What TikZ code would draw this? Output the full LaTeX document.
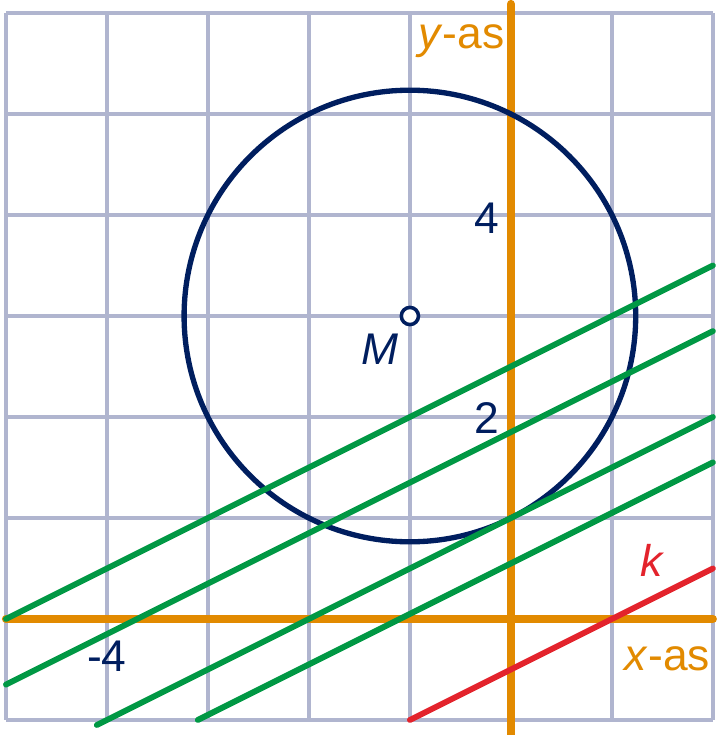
\documentclass[tikz,border=0pt]{standalone}
\usepackage{fontspec}
\setmainfont{Liberation Sans}
\definecolor{gridc}{RGB}{176,181,207}
\definecolor{axisc}{RGB}{226,138,0}
\definecolor{greenc}{RGB}{0,152,68}
\definecolor{navyc}{RGB}{0,30,95}
\definecolor{redc}{RGB}{227,35,44}
\begin{document}
\begin{tikzpicture}[x=1cm,y=1cm,
  gridline/.style={draw=gridc,line width=1pt},
  axisline/.style={draw=axisc,line width=2.3pt,line cap=round},
  greenline/.style={draw=greenc,line width=1.65pt,line cap=round},
  redline/.style={draw=redc,line width=1.65pt,line cap=round},
  circ/.style={draw=navyc,line width=1.5pt},
  lbl/.style={font=\fontsize{12.5}{14}\selectfont,inner sep=0pt},
]
\useasboundingbox (-5.059,-1.149) rectangle (2.059,6.129);
% grid
\draw[gridline] (-5,-1) grid (2,6);
% axes
\coordinate (xa1) at (-5,0);
\coordinate (xa2) at (2,0);
\coordinate (ya1) at (0,6.09);
\coordinate (ya2) at (0,-1.2);
\draw[axisline] (xa1) -- (xa2);
\draw[axisline] (ya1) -- (ya2);
% circle
\coordinate (M) at (-1,3);
\draw[circ] (M) circle ({sqrt(5)});
% green lines
\coordinate (g1a) at (-5,0);      \coordinate (g1b) at (2,3.5);
\coordinate (g2a) at (-5,-0.65);  \coordinate (g2b) at (2,2.85);
\coordinate (g3a) at (-4.1,-1.05);\coordinate (g3b) at (2,2);
\coordinate (g4a) at (-3.1,-1);   \coordinate (g4b) at (2,1.55);
\draw[greenline] (g1a) -- (g1b);
\draw[greenline] (g2a) -- (g2b);
\draw[greenline] (g3a) -- (g3b);
\draw[greenline] (g4a) -- (g4b);
% red line k
\coordinate (ka) at (-1,-1);
\coordinate (kb) at (2,0.5);
\draw[redline] (ka) -- (kb);
% centre point
\node[circle,draw=navyc,fill=white,line width=1pt,minimum size=0.17cm,inner sep=0pt] (Mpt) at (M) {};
% labels
\node[lbl,text=axisc] (ylab) at (-0.49,5.72) {\textit{y}-as};
\node[lbl,text=axisc] (xlab) at (1.55,-0.39) {\textit{x}-as};
\node[lbl,text=navyc] (n4) at (-0.24,3.97) {4};
\node[lbl,text=navyc] (n2) at (-0.24,1.99) {2};
\node[lbl,text=navyc] (nm4) at (-4.0,-0.37) {-4};
\node[lbl,text=redc] (klab) at (1.40,0.58) {\textit{k}};
\node[lbl,text=navyc] (Mlab) at (-1.30,2.67) {\textit{M}};
\end{tikzpicture}
\end{document}
